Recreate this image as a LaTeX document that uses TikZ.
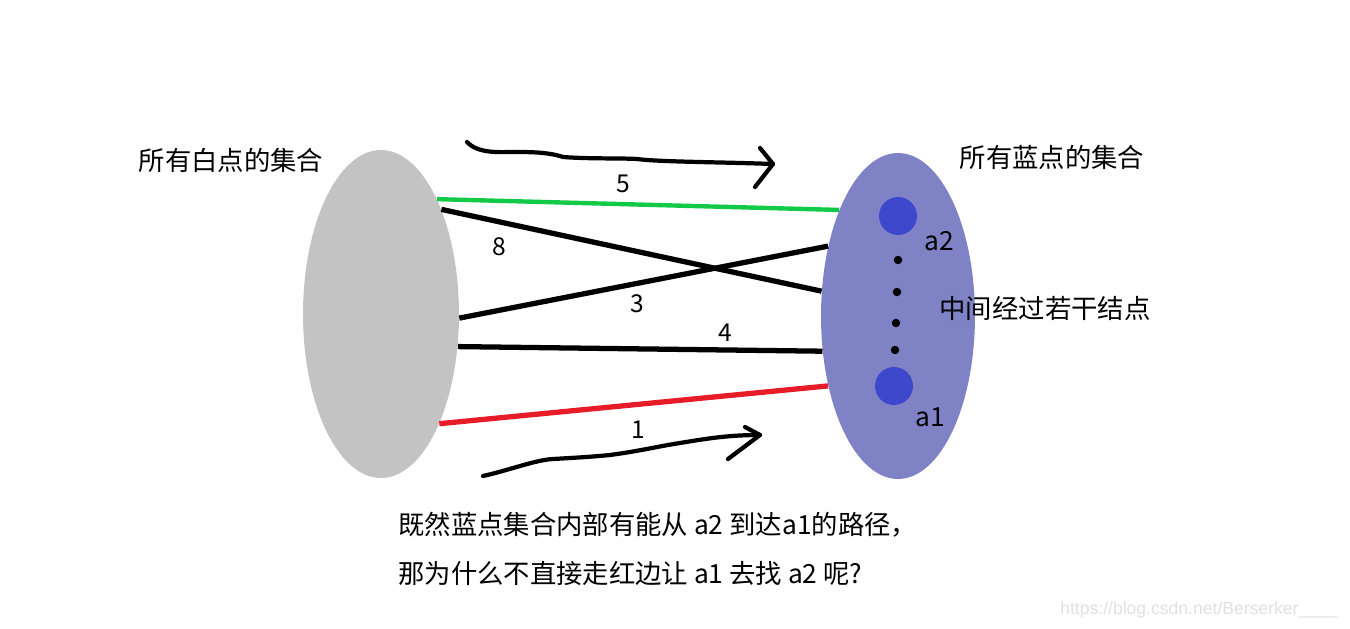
\documentclass[tikz,border=0pt]{standalone}
\usepackage{fontspec}
\setmainfont{Noto Sans CJK SC}
\newfontfamily\markfont{Liberation Sans}
\usepackage{tikz}
\usetikzlibrary{shapes.geometric}

\definecolor{setgray}{RGB}{195,195,195}
\definecolor{setblue}{RGB}{127,131,198}
\definecolor{dotblue}{RGB}{62,72,204}
\definecolor{edgegreen}{RGB}{18,201,72}
\definecolor{edgered}{RGB}{232,28,40}

\tikzset{
    setnode/.style={ellipse, inner sep=0pt, draw=none},
    edge/.style={line width=3pt},
    hand/.style={line width=2.4pt, line cap=round, line join=round},
    txt/.style={font=\fontsize{15}{18}\selectfont, inner sep=0pt},
    num/.style={font=\fontsize{14}{16}\selectfont, inner sep=0pt}
}

\begin{document}
\begin{tikzpicture}[x=0.02cm, y=-0.02cm]
    \useasboundingbox (0,0) rectangle (1350,629);

    % the two sets
    \node[setnode, fill=setgray, minimum width=3.12cm, minimum height=6.56cm] (white) at (381,314) {};
    \node[setnode, fill=setblue, minimum width=3.08cm, minimum height=6.52cm] (blue) at (898,316) {};

    % nodes inside the blue set
    \node[circle, fill=dotblue, minimum size=0.76cm, inner sep=0pt] (a2) at (898,216) {};
    \node[circle, fill=dotblue, minimum size=0.76cm, inner sep=0pt] (a1) at (894,386) {};
    \foreach \x/\y [count=\i] in {898/260, 897/292, 896/323, 895/350}
    {
        \node[circle, fill=black, minimum size=0.17cm, inner sep=0pt] (mid\i) at (\x,\y) {};
    }

    % edges between the sets
    \draw[edge, edgegreen, line width=2.5pt] (white.64) -- (blue.119);
    \draw[edge] (white.60) -- (blue.162);
    \draw[edge] (white.-3) -- (blue.135);
    \draw[edge] (white.-23) -- (blue.205);
    \draw[edge, edgered] (white.-62) -- (blue.225);

    % weights
    \node[num] (w5) at (623,184) {5};
    \node[num] (w8) at (499,247) {8};
    \node[num] (w3) at (637,304) {3};
    \node[num] (w4) at (725,333) {4};
    \node[num] (w1) at (638,430) {1};

    % hand drawn arrows
    \coordinate (topstart) at (467,142);
    \coordinate (toptip) at (773,164);
    \draw[hand] (topstart) .. controls (478,154) and (500,152) .. (513,152)
        .. controls (530,152) and (548,152) .. (563,157)
        .. controls (590,159) and (620,158) .. (637,159)
        .. controls (660,162) and (720,162) .. (toptip);
    \draw[hand] (760,148) -- (toptip) -- (755,187);

    \coordinate (botstart) at (483,476);
    \coordinate (bottip) at (760,435);
    \draw[hand] (botstart) .. controls (510,470) and (535,460) .. (553,459)
        .. controls (570,458) and (590,457) .. (610,455)
        .. controls (640,451) and (660,446) .. (680,443)
        .. controls (710,438) and (730,435) .. (bottip);
    \draw[hand] (745,427) -- (bottip) -- (728,459);

    % labels
    \node[txt] (whitename) at (231,160) {所有白点的集合};
    \node[txt] (bluename) at (1052,157) {所有蓝点的集合};
    \node[txt] (a2name) at (939,241) {a2};
    \node[txt] (a1name) at (930,417) {a1};
    \node[txt] (midname) at (1045,308) {中间经过若干结点};
    \node[txt, anchor=west] (question1) at (398,525) {既然蓝点集合内部有能从 a2 到达a1的路径，};
    \node[txt, anchor=west] (question2) at (398,573) {那为什么不直接走红边让 a1 去找 a2 呢?};

    \node[font=\markfont\fontsize{10}{12}\selectfont, text=black!12, inner sep=0pt, anchor=east] (mark) at (1338,610) {https://blog.csdn.net/Berserker\_\_\_\_};
\end{tikzpicture}
\end{document}
